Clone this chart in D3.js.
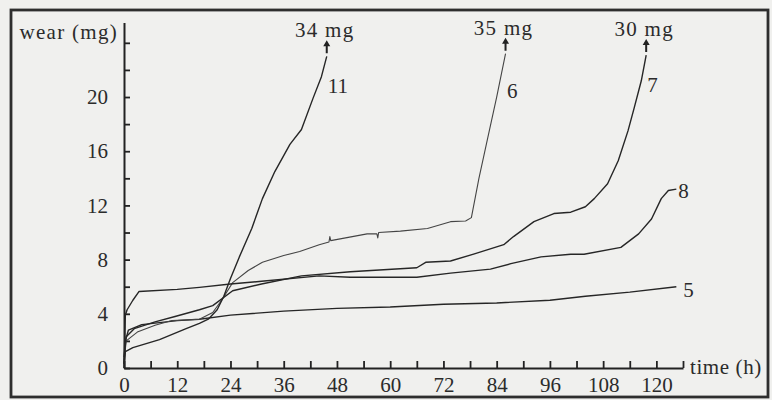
<!DOCTYPE html>
<html>
<head>
<meta charset="utf-8">
<script src="https://cdn.jsdelivr.net/npm/d3@7"></script>
<style>
	body { margin: 0; background: #f0f0ee; }
	svg { display: block; }
	text { font-family: "Liberation Serif", "DejaVu Serif", serif; fill: #2b2b2b; }
	.wide { letter-spacing: 1.3px; }
	.wide-s { letter-spacing: 0.6px; }
</style>
</head>
<body>
<svg id="chart" width="772" height="400"></svg>
<script>
let width = 772;
let height = 400;

// wear curves: [time (h), wear (mg)]
const curve5 = [[0, 0.3], [0.3, 2.0], [1, 2.8], [4, 3.2], [12, 3.5], [17, 3.6], [24, 3.9], [36, 4.2],
	[48, 4.4], [60, 4.5], [72, 4.7], [84, 4.8], [96, 5.0], [104, 5.3], [114, 5.6], [124.5, 6.0]];
const curve6 = [[0, 0.5], [0.5, 2.0], [3, 2.65], [7, 3.15], [10.8, 3.5], [17, 3.6], [20, 4.1], [22, 5.0],
	[24.5, 6.3], [28, 7.2], [31.2, 7.8], [36, 8.3], [39.6, 8.6], [44, 9.1], [46.2, 9.3], [46.4, 9.7],
	[46.6, 9.4], [54.8, 9.9], [57, 9.9], [57.2, 9.6], [57.4, 10.0], [62.3, 10.1], [68.4, 10.3],
	[73.6, 10.8], [77, 10.85], [78.3, 11.1], [80, 14.0], [82, 17.0], [84, 20.0], [86, 23.2]];
const curve7 = [[0, 0.8], [0.5, 2.3], [2.3, 2.9], [7, 3.4], [11.5, 3.8], [17, 4.3], [20, 4.6], [24.5, 5.7],
	[31, 6.2], [40, 6.8], [51, 7.1], [66, 7.4], [68, 7.8], [73.6, 7.9], [78.8, 8.4], [85.6, 9.1],
	[87.8, 9.7], [92.4, 10.8], [96.9, 11.4], [100.7, 11.5], [104, 11.9], [106, 12.5], [109, 13.6],
	[111.4, 15.3], [113.6, 17.5], [115, 19.2], [116.6, 21.2], [117.7, 23.1]];
const curve8 = [[0, 0], [0.3, 3.9], [0.7, 4.3], [2, 5.0], [3.4, 5.65], [12, 5.8], [17, 5.95], [24, 6.2],
	[31, 6.4], [44, 6.8], [51, 6.7], [66, 6.7], [73.6, 7.0], [82.6, 7.3], [87.2, 7.7], [94, 8.2],
	[100.7, 8.4], [103.7, 8.4], [112, 8.9], [116, 9.9], [118.9, 11.0], [121.1, 12.5], [122.7, 13.1],
	[124.5, 13.2]];
const curve11 = [[0, 0.3], [0.3, 1.2], [2, 1.5], [8, 2.1], [14, 2.9], [17, 3.3], [19, 3.6], [21, 4.3],
	[22.5, 5.3], [24, 6.6], [26, 8.2], [28.8, 10.3], [31.2, 12.5], [34, 14.5], [37.4, 16.5], [40, 17.6],
	[42.6, 19.9], [44.5, 21.5], [45.7, 23.0]];

const curveNames = ["5", "6", "7", "8", "11"];
const offScale = {"6": "35 mg", "7": "30 mg", "11": "34 mg"};

const xTicks = d3.range(0, 127, 6);
const yTicks = d3.range(0, 25, 2);

const FONT = '"Liberation Serif", "DejaVu Serif", serif';

// no d3-selection-multi here, so a small stand-in
function attrs(sel, obj) {
	for (const k in obj) sel.attr(k, obj[k]);
	return sel;
}

function main() {
	const series = [curve5, curve6, curve7, curve8, curve11];
	const scales = make_scales();
	const svg = d3.select("#chart");

	// scanned frame
	attrs(svg.append("rect"),
		{x: 11, y: 10, width: 757, height: 387, fill: "none", stroke: "#2e2e2e", "stroke-width": 2.8});

	draw_axes(svg, scales);
	draw_lines(svg, series, scales);
	draw_labels(svg, series, scales);
}

function make_scales() {
	return {
		x: d3.scaleLinear().domain([0, 126]).range([124, 683]),
		y: d3.scaleLinear().domain([0, 25.5]).range([368, 22.5])
	};
}

function draw_axes(svg, scales) {
	const xAxis = d3.axisBottom(scales.x)
		.tickValues(xTicks)
		.tickSizeInner(-7)
		.tickSizeOuter(0)
		.tickPadding(9)
		.tickFormat(d => (d % 12 === 0 && d <= 120) ? d : "");
	const yAxis = d3.axisLeft(scales.y)
		.tickValues(yTicks)
		.tickSizeInner(-6)
		.tickSizeOuter(0)
		.tickPadding(16)
		.tickFormat(d => (d % 4 === 0 && d <= 20) ? d : "");

	const gx = svg.append("g").attr("transform", "translate(0," + scales.y(0) + ")").call(xAxis);
	const gy = svg.append("g").attr("transform", "translate(" + scales.x(0) + ",0)").call(yAxis);

	[gx, gy].forEach(g => {
		attrs(g, {"font-family": FONT, "font-size": 21});
		attrs(g.select(".domain"), {stroke: "#222", "stroke-width": 2});
		attrs(g.selectAll(".tick line"), {stroke: "#222", "stroke-width": 1.8});
		attrs(g.selectAll(".tick text"), {fill: "#2b2b2b"});
	});

	attrs(svg.append("text"), {x: 118, y: 39, "text-anchor": "end", "font-size": 21, class: "wide"})
		.text("wear (mg)");
	attrs(svg.append("text"), {x: 690, y: 374, "font-size": 21, class: "wide-s"})
		.text("time (h)");
}

function draw_lines(svg, series, scales) {
	const path_generator = d3.line()
		.x(d => scales.x(d[0]))
		.y(d => scales.y(d[1]));

	attrs(svg.append("g")
		.selectAll("path")
		.data(series).enter()
		.append("path"), {
			d: path_generator,
			fill: "none",
			stroke: (d, i) => curveNames[i] === "6" ? "#444" : "#262626",
			"stroke-width": (d, i) => curveNames[i] === "6" ? 1.1 : 1.4,
			"stroke-linejoin": "round"
		});
}

function draw_labels(svg, series, scales) {
	// label offsets from each curve's last point
	const nameOffset = {"5": [7, 10], "6": [1.5, 44], "7": [1, 37], "8": [2, 9], "11": [1, 37]};

	series.forEach((s, i) => {
		const name = curveNames[i];
		const last = s[s.length - 1];
		const px = scales.x(last[0]);
		const py = scales.y(last[1]);

		attrs(svg.append("text"), {x: px + nameOffset[name][0], y: py + nameOffset[name][1], "font-size": 21})
			.text(name);

		if (offScale[name]) {
			// up arrow: the curve runs off the scale
			attrs(svg.append("path"), {
				d: "M" + (px - 1) + "," + (py - 3) + "V" + (py - 10) + "H" + (px - 3.5)
					+ "L" + px + "," + (py - 16) + "L" + (px + 3.5) + "," + (py - 10)
					+ "H" + (px + 1) + "V" + (py - 3) + "Z",
				fill: "#222"
			});
			attrs(svg.append("text"), {x: px - 2, y: py - 19, "text-anchor": "middle", "font-size": 21, class: "wide"})
				.text(offScale[name]);
		}
	});
}

main();
</script>
</body>
</html>
